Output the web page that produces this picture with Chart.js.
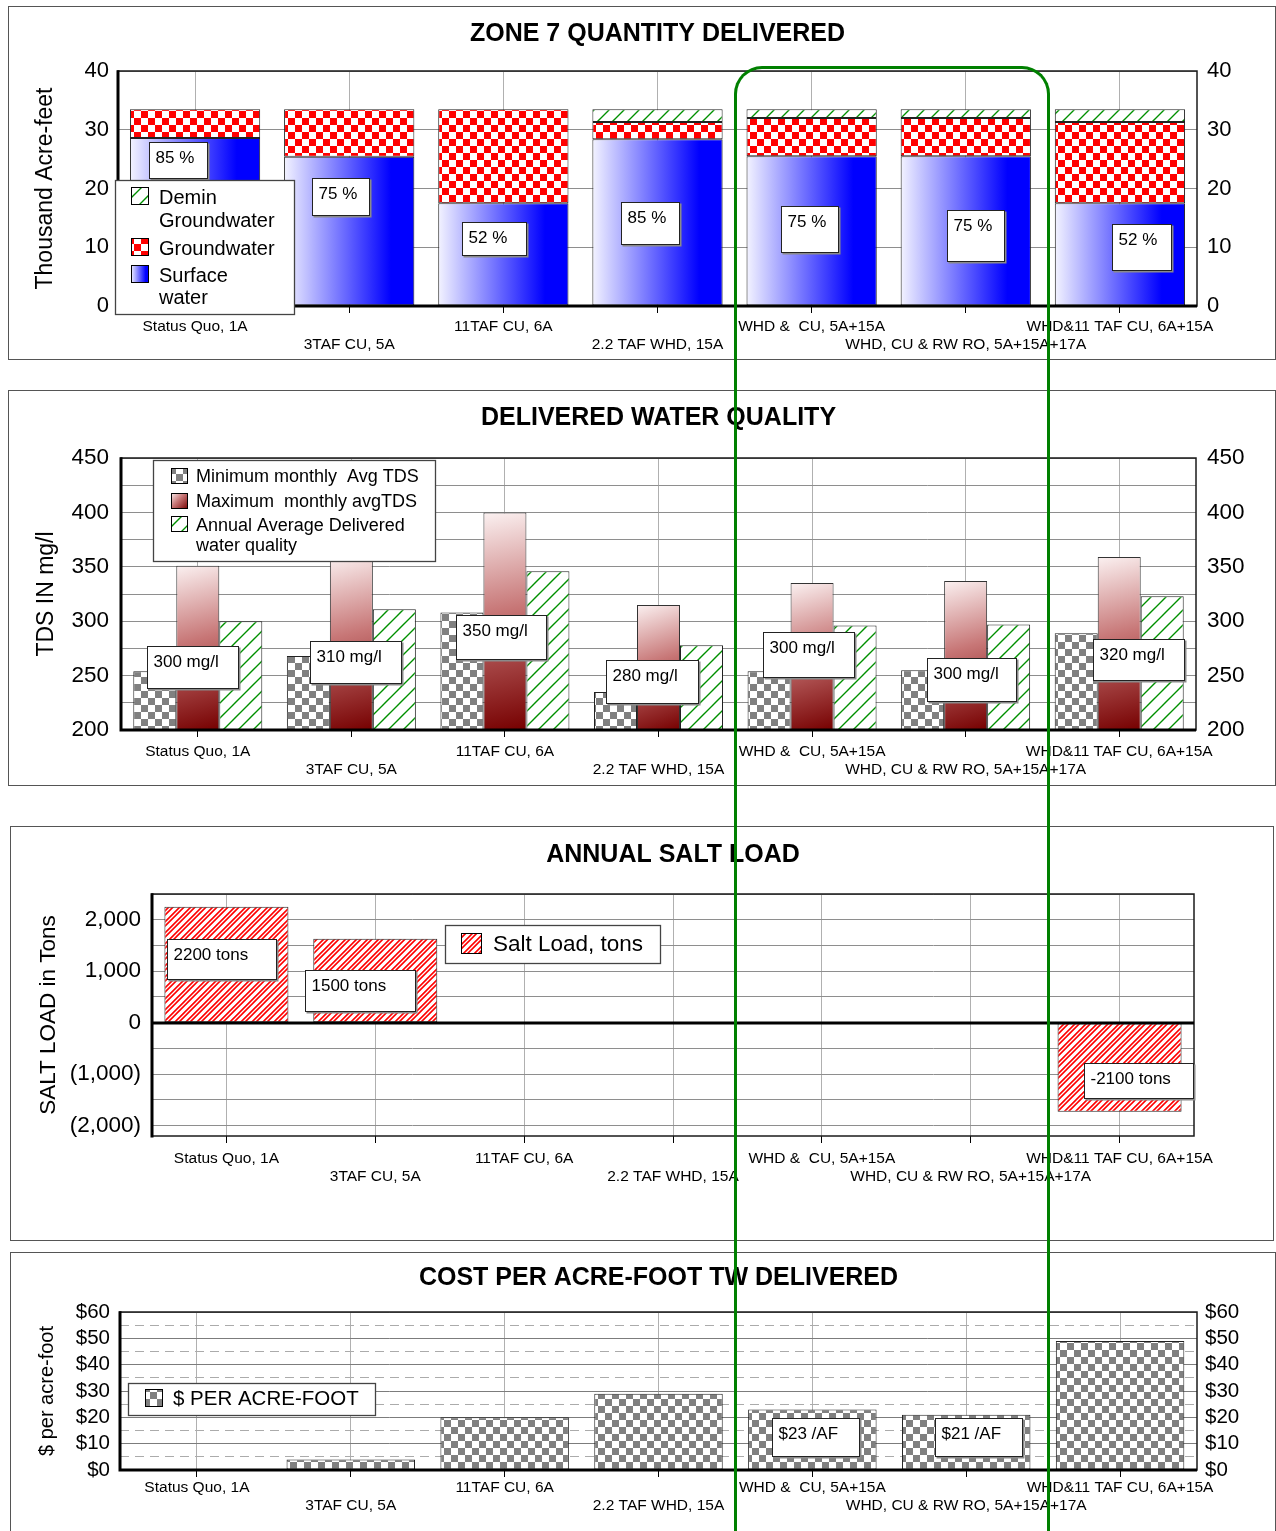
<!DOCTYPE html>
<html><head><meta charset="utf-8">
<script src="https://cdn.jsdelivr.net/npm/chart.js@4.4.1/dist/chart.umd.min.js"></script>
<style>
html,body{margin:0;padding:0;background:#fff;width:1276px;height:1531px;overflow:hidden;}
.panel{position:absolute;box-sizing:border-box;border:1px solid #555;}
.panel canvas{position:absolute;left:-1px;top:-1px;}
#ring{position:absolute;left:734px;top:66px;width:316px;height:1520px;box-sizing:border-box;border:3px solid #008000;border-bottom:none;border-radius:28px 28px 0 0;pointer-events:none;}
</style></head><body>
<div class="panel" style="left:8px;top:6px;width:1268px;height:354px"><canvas id="c1" width="1268" height="354"></canvas></div>
<div class="panel" style="left:8px;top:390px;width:1268px;height:396px"><canvas id="c2" width="1268" height="396"></canvas></div>
<div class="panel" style="left:10px;top:826px;width:1264px;height:415px"><canvas id="c3" width="1264" height="415"></canvas></div>
<div class="panel" style="left:10px;top:1252px;width:1266px;height:290px"><canvas id="c4" width="1266" height="290"></canvas></div>
<div id="ring"></div>
<script>
// ---------------- DATA ----------------
const categories = ['Status Quo, 1A','3TAF CU, 5A','11TAF CU, 6A','2.2 TAF WHD, 15A','WHD &  CU, 5A+15A','WHD, CU & RW RO, 5A+15A+17A','WHD&11 TAF CU, 6A+15A'];

// Zone 7 quantity delivered (thousand acre-feet)
const surfaceWater     = [28.6, 25.4, 17.5, 28.4, 25.5, 25.5, 17.5];
const groundwater      = [4.9, 8.1, 16.0, 2.9, 6.5, 6.5, 13.8];
const deminGroundwater = [0, 0, 0, 2.2, 1.5, 1.5, 2.2];
const surfacePctLabels = ['85 %','75 %','52 %','85 %','75 %','75 %','52 %'];
const quantityTicks    = {min: 0, max: 40, step: 10};

// Delivered water quality (TDS mg/l)
const minMonthlyTDS  = [254, 268, 308, 235, 254, 255, 289];
const maxMonthlyTDS  = [351, 360, 400, 315, 335, 337, 359];
const annualAvgTDS   = [300, 311, 346, 278, 296, 297, 323];
const tdsLabels      = ['300 mg/l','310 mg/l','350 mg/l','280 mg/l','300 mg/l','300 mg/l','320 mg/l'];
const tdsTicks       = {min: 200, max: 450, step: 25};

// Annual salt load (tons)
const saltLoad       = [2250, 1630, 0, 0, 0, 0, -1730];
const saltLabels     = ['2200 tons','1500 tons','','','','','-2100 tons'];
const saltTickValues = [-2000,-1500,-1000,-500,0,500,1000,1500,2000,2500];
const saltRange      = {min: -2200, max: 2500};

// Cost per acre-foot ($)
const costPerAF      = [0, 4, 20, 29, 23, 21, 49];
const costLabels     = ['','','','','$23 /AF','$21 /AF',''];
const costTicks      = {min: 0, max: 60, step: 5};

// legend texts (wrapped as in the original)
const legend1Text = [['Demin','Groundwater'],['Groundwater'],['Surface','water']];
const legend2Text = [['Minimum monthly  Avg TDS'],['Maximum  monthly avgTDS'],['Annual Average Delivered','water quality']];
const legend3Text = [['Salt Load, tons']];
const legend4Text = [['$ PER ACRE-FOOT']];

// label box geometry: [left, right] in category units from center, [top, bottom] in value units
const box1 = [[-0.30,0.08,27.9,21.8],[-0.24,0.13,21.8,15.5],[-0.27,0.15,14.3,8.7],[-0.24,0.14,17.7,10.6],[-0.20,0.17,17.0,9.2],[-0.12,0.25,16.3,7.7],[-0.05,0.33,14.0,6.1]];
const box2 = [[-0.33,0.26,277,239],[-0.27,0.32,282,243],[-0.32,0.27,306,265],[-0.34,0.26,264,225],[-0.32,0.27,290,249],[-0.25,0.33,266,227],[-0.17,0.42,284,246]];
const box3 = [[-0.40,0.33,1631,854],[-0.47,0.27,1029,233],null,null,null,null,[-0.24,0.49,-777,-1456]];
const box4 = [null,null,null,null,[-0.26,0.30,19.7,5.3],[-0.20,0.36,19.7,5.3],null];

// ---------------- STYLE HELPERS ----------------
const FONT = "'Liberation Sans', Arial, Helvetica, sans-serif";
Chart.defaults.font.family = FONT;
Chart.defaults.color = '#000';
Chart.defaults.animation = false;
Chart.defaults.responsive = false;
Chart.defaults.plugins.legend.display = false;
Chart.defaults.plugins.tooltip.enabled = false;

const tmpCtx = document.createElement('canvas').getContext('2d');
function checker(fg, bg, s){
  const c=document.createElement('canvas'); c.width=c.height=2*s;
  const x=c.getContext('2d'); x.fillStyle=bg; x.fillRect(0,0,2*s,2*s);
  x.fillStyle=fg; x.fillRect(0,0,s,s); x.fillRect(s,s,s,s);
  return tmpCtx.createPattern(c,'repeat');
}
function hatch(col, bg, s, lw, inner){
  const c=document.createElement('canvas'); c.width=c.height=s;
  const x=c.getContext('2d'); x.fillStyle=bg; x.fillRect(0,0,s,s);
  const draw=(w,color)=>{ x.strokeStyle=color; x.lineWidth=w; x.beginPath();
    for(const k of [-s,0,s]){ x.moveTo(k-2,s+2); x.lineTo(k+s+2,-2); } x.stroke(); };
  draw(lw,col); if(inner) draw(inner,bg);
  return tmpCtx.createPattern(c,'repeat');
}
const PAT = {
  redCheck: checker('#ff0000','#ffffff',7),
  greenHatch: hatch('#009000','#ffffff',15,1.4),
  grayCheck: checker('#808080','#ffffff',7),
  redHatch: hatch('#ff0000','#ffffff',11,4.6,1.3)
};
function blueGrad(ctx,l,r){ const g=ctx.createLinearGradient(l,0,r,0); g.addColorStop(0,'#f3f3ff'); g.addColorStop(0.82,'#0000ff'); g.addColorStop(1,'#0000ff'); return g; }
function redGrad(ctx,l,t,r,b){ const g=ctx.createLinearGradient(l,t,r,b); g.addColorStop(0,'#fbf1f1'); g.addColorStop(0.45,'#c77676'); g.addColorStop(1,'#760000'); return g; }
function barSpan(chart,i,pct,n,pos){
  const xs=chart.scales.x; const catW=xs.width/categories.length; const cx=xs.getPixelForValue(i);
  const gw=catW*pct, w=gw/n, l=cx-gw/2+pos*w; return [l,l+w];
}

function xAxis(height, pad){
  return { type:'category', labels:categories, offset:true,
    grid:{offset:false, color:'#b0b0b0', lineWidth:1, drawTicks:true, tickLength:7, tickColor:'#000', tickWidth:1},
    border:{display:false},
    ticks:{autoSkip:false, maxRotation:0, minRotation:0, padding:pad, color:'#000', font:{size:15.5, lineHeight:'18px'},
      callback:(v,i)=> i%2===0 ? categories[i] : ['', categories[i]]},
    afterFit:s=>{ s.height=height; } };
}
function yAxis(o){
  const ax = { type:'linear', position:o.pos||'left', min:o.min, max:o.max,
    grid:{display:o.grid!==false, drawTicks:false, tickLength:0, color:o.gridColor||'#8e8e8e', lineWidth:1},
    border:{display:false, dash:o.dash||[]},
    ticks:{stepSize:o.step, maxTicksLimit:100, autoSkip:false, padding:o.pad, font:{size:o.fs}, color:'#000', callback:o.fmt},
    title:o.title?{display:true, text:o.title, color:'#000', font:{size:o.tfs}, padding:{top:o.tpad,bottom:0}}:{display:false},
    afterFit:s=>{ s.width=o.width; } };
  if(o.tickValues) ax.afterBuildTicks = s=>{ s.ticks = o.tickValues.map(v=>({value:v})); };
  return ax;
}

function makeDecor(cfg){
  return { id:'decor', afterDraw(chart){
    const ctx=chart.ctx, a=chart.chartArea, xs=chart.scales.x, ys=chart.scales.y;
    const ox=cfg.origin[0], oy=cfg.origin[1];
    ctx.save();
    ctx.lineWidth=1.5; ctx.strokeStyle='#1a1a1a';
    ctx.strokeRect(a.left,a.top,a.right-a.left,a.bottom-a.top);
    ctx.lineWidth=3; ctx.strokeStyle='#000'; ctx.beginPath();
    ctx.moveTo(a.left,a.top-0.75); ctx.lineTo(a.left,a.bottom+1.5);
    if(cfg.thickBase){ ctx.moveTo(a.left,a.bottom); ctx.lineTo(a.right,a.bottom); }
    if(cfg.zeroLine){ const y0=Math.round(ys.getPixelForValue(0)); ctx.moveTo(a.left,y0); ctx.lineTo(a.right,y0); }
    ctx.stroke();
    // value label boxes
    const catW=(a.right-a.left)/categories.length;
    ctx.font='17px '+FONT; ctx.textBaseline='middle'; ctx.textAlign='left';
    cfg.labels.forEach((t,i)=>{
      const b=cfg.boxes[i]; if(!t||!b) return;
      const cx=xs.getPixelForValue(i);
      const x0=Math.round(cx+b[0]*catW)+0.5, x1=Math.round(cx+b[1]*catW)+0.5;
      const y0=Math.round(ys.getPixelForValue(b[2]))+0.5, y1=Math.round(ys.getPixelForValue(b[3]))+0.5;
      ctx.fillStyle='#8a8a8a'; ctx.fillRect(x0+1,y0+1,x1-x0+1,y1-y0+1);
      ctx.fillStyle='#fff'; ctx.fillRect(x0,y0,x1-x0,y1-y0);
      ctx.lineWidth=1; ctx.strokeStyle='#222'; ctx.strokeRect(x0,y0,x1-x0,y1-y0);
      ctx.fillStyle='#000'; ctx.fillText(t,x0+6,y0+16);
    });
    // legend
    const L=cfg.legend; const [bx,by,bw,bh]=L.box;
    ctx.fillStyle='#fff'; ctx.fillRect(bx-ox,by-oy,bw,bh);
    ctx.lineWidth=1.3; ctx.strokeStyle='#444'; ctx.strokeRect(bx-ox+0.5,by-oy+0.5,bw,bh);
    ctx.font=L.fs+'px '+FONT; ctx.textAlign='left'; ctx.textBaseline='middle';
    L.items.forEach((it,k)=>{
      const [sx,sy,sw,sh]=it.sw; const x=sx-ox, y=sy-oy;
      ctx.fillStyle = typeof it.fill==='function' ? it.fill(ctx,x,y,sw,sh) : it.fill;
      ctx.fillRect(x,y,sw,sh);
      ctx.lineWidth=1; ctx.strokeStyle='#000'; ctx.strokeRect(x+0.5,y+0.5,sw-1,sh-1);
      ctx.fillStyle='#000';
      L.text[k].forEach((t,j)=>ctx.fillText(t,L.tx-ox,it.ty[j]-oy));
    });
    // title
    ctx.font='bold 25px '+FONT; ctx.textAlign='center'; ctx.textBaseline='middle'; ctx.fillStyle='#000';
    ctx.fillText(cfg.title,(a.left+a.right)/2,cfg.titleY);
    ctx.restore();
  }};
}

// ---------------- CHART 1 ----------------
new Chart(document.getElementById('c1'), {
  type:'bar',
  data:{ labels:categories, datasets:[
    {label:'Surface water', data:surfaceWater, stack:'s', borderColor:'#222', borderWidth:1, borderSkipped:false,
     backgroundColor:c=>{ if(c.type!=='data'||!c.chart.chartArea) return '#0000ff'; const [l,r]=barSpan(c.chart,c.dataIndex,0.845,1,0); return blueGrad(c.chart.ctx,l,r); }},
    {label:'Groundwater', data:groundwater, stack:'s', backgroundColor:PAT.redCheck, borderColor:'#222', borderWidth:1, borderSkipped:false},
    {label:'Demin Groundwater', data:deminGroundwater, stack:'s', backgroundColor:PAT.greenHatch, borderColor:'#222', borderWidth:1, borderSkipped:false}
  ]},
  options:{
    layout:{padding:{top:65,left:0,right:0,bottom:0}},
    datasets:{bar:{categoryPercentage:1, barPercentage:0.845}},
    scales:{
      x:Object.assign(xAxis(54,5),{stacked:true}),
      y:Object.assign(yAxis({min:quantityTicks.min,max:quantityTicks.max,step:quantityTicks.step,pad:9,fs:22,width:110,title:'Thousand Acre-feet',tfs:23,tpad:24,fmt:v=>String(v)}),{stacked:true}),
      y2:yAxis({pos:'right',min:quantityTicks.min,max:quantityTicks.max,step:quantityTicks.step,pad:10,fs:22,width:79,grid:false,fmt:v=>String(v)})
    }
  },
  plugins:[makeDecor({origin:[8,6], title:'ZONE 7 QUANTITY DELIVERED', titleY:28, thickBase:true,
    labels:surfacePctLabels, boxes:box1,
    legend:{box:[115,180,179,134], fs:20, tx:159, text:legend1Text, items:[
      {fill:PAT.greenHatch, sw:[131,187,18,18], ty:[198,221]},
      {fill:PAT.redCheck, sw:[131,238,18,18], ty:[249]},
      {fill:(ctx,x,y,w,h)=>blueGrad(ctx,x,x+w), sw:[131,265,18,18], ty:[276,298]}
    ]}})]
});

// ---------------- CHART 2 ----------------
new Chart(document.getElementById('c2'), {
  type:'bar',
  data:{ labels:categories, datasets:[
    {label:'Minimum monthly  Avg TDS', data:minMonthlyTDS, backgroundColor:PAT.grayCheck, borderColor:'#222', borderWidth:1, borderSkipped:false},
    {label:'Maximum  monthly avgTDS', data:maxMonthlyTDS, borderColor:'#333', borderWidth:1, borderSkipped:false,
     backgroundColor:c=>{ if(c.type!=='data'||!c.chart.chartArea) return '#a33'; const [l,r]=barSpan(c.chart,c.dataIndex,0.84,3,1); const ys=c.chart.scales.y; return redGrad(c.chart.ctx,l,ys.getPixelForValue(c.raw),r,ys.getPixelForValue(tdsTicks.min)); }},
    {label:'Annual Average Delivered water quality', data:annualAvgTDS, backgroundColor:PAT.greenHatch, borderColor:'#222', borderWidth:1, borderSkipped:false}
  ]},
  options:{
    layout:{padding:{top:68,left:0,right:0,bottom:0}},
    datasets:{bar:{categoryPercentage:0.84, barPercentage:1}},
    scales:{
      x:xAxis(56,6),
      y:yAxis({min:tdsTicks.min,max:tdsTicks.max,step:tdsTicks.step,pad:12,fs:22.5,width:113,title:'TDS IN mg/l',tfs:23,tpad:25,fmt:v=>v%50===0?String(v):''}),
      y2:yAxis({pos:'right',min:tdsTicks.min,max:tdsTicks.max,step:tdsTicks.step,pad:11,fs:22.5,width:80,grid:false,fmt:v=>v%50===0?String(v):''})
    }
  },
  plugins:[makeDecor({origin:[8,390], title:'DELIVERED WATER QUALITY', titleY:28, thickBase:true,
    labels:tdsLabels, boxes:box2,
    legend:{box:[153,460,282,101], fs:18, tx:196, text:legend2Text, items:[
      {fill:PAT.grayCheck, sw:[171,468,17,16], ty:[477]},
      {fill:(ctx,x,y,w,h)=>redGrad(ctx,x,y,x+w,y+h), sw:[171,493,17,16], ty:[502]},
      {fill:PAT.greenHatch, sw:[171,516,17,16], ty:[526,546]}
    ]}})]
});

// ---------------- CHART 3 ----------------
const fmtSalt = v => v%1000!==0 ? '' : v===0 ? '0' : v<0 ? '('+Math.abs(v).toLocaleString('en-US')+')' : v.toLocaleString('en-US');
new Chart(document.getElementById('c3'), {
  type:'bar',
  data:{ labels:categories, datasets:[
    {label:'Salt Load, tons', data:saltLoad, backgroundColor:PAT.redHatch, borderColor:'#222', borderWidth:1, borderSkipped:false}
  ]},
  options:{
    layout:{padding:{top:68,left:0,right:80,bottom:0}},
    datasets:{bar:{categoryPercentage:1, barPercentage:0.833}},
    scales:{
      x:xAxis(105,7),
      y:yAxis({min:saltRange.min,max:saltRange.max,tickValues:saltTickValues,pad:11,fs:22.5,width:142,title:'SALT LOAD in Tons',tfs:22.5,tpad:25,fmt:fmtSalt})
    }
  },
  plugins:[makeDecor({origin:[10,826], title:'ANNUAL SALT LOAD', titleY:29, thickBase:false, zeroLine:true,
    labels:saltLabels, boxes:box3,
    legend:{box:[445,925,215,38], fs:22.5, tx:493, text:legend3Text, items:[
      {fill:PAT.redHatch, sw:[461,933,21,21], ty:[945]}
    ]}})]
});

// ---------------- CHART 4 ----------------
const costGridColor = c => (c.tick && c.tick.value%10!==0) ? '#ababab' : '#7c7c7c';
const costDash = c => (c.tick && c.tick.value%10!==0) ? [9,6] : [];
new Chart(document.getElementById('c4'), {
  type:'bar',
  data:{ labels:categories, datasets:[
    {label:'$ PER ACRE-FOOT', data:costPerAF, backgroundColor:PAT.grayCheck, borderColor:'#222', borderWidth:1, borderSkipped:false}
  ]},
  options:{
    layout:{padding:{top:60,left:0,right:0,bottom:0}},
    datasets:{bar:{categoryPercentage:1, barPercentage:0.835}},
    scales:{
      x:xAxis(72,2),
      y:yAxis({min:costTicks.min,max:costTicks.max,step:costTicks.step,pad:10,fs:20.5,width:110,title:'$ per acre-foot',tfs:20,tpad:25,gridColor:costGridColor,dash:costDash,fmt:v=>v%10===0?'$'+v:''}),
      y2:yAxis({pos:'right',min:costTicks.min,max:costTicks.max,step:costTicks.step,pad:8,fs:20.5,width:79,grid:false,fmt:v=>v%10===0?'$'+v:''})
    }
  },
  plugins:[makeDecor({origin:[10,1252], title:'COST PER ACRE-FOOT TW DELIVERED', titleY:26, thickBase:true,
    labels:costLabels, boxes:box4,
    legend:{box:[128,1383,247,32], fs:20.5, tx:173, text:legend4Text, items:[
      {fill:PAT.grayCheck, sw:[145,1389,18,18], ty:[1399]}
    ]}})]
});
</script>
</body></html>
